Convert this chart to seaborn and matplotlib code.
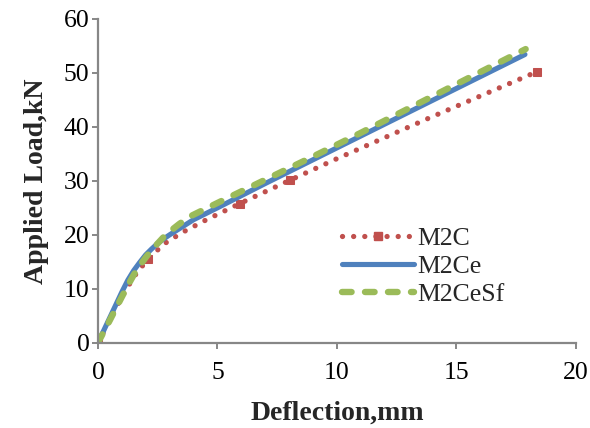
import matplotlib
matplotlib.use("Agg")
import matplotlib.pyplot as plt
from matplotlib.lines import Line2D
import seaborn as sns

# data
m2c_x = [0, 0.5, 1.0, 1.5, 2.1, 2.8, 3.0, 3.64, 4.5, 5.94, 8.03, 10.0, 12.0, 14.0, 16.0, 18.37]
m2c_y = [0, 4.3, 8.5, 12.2, 15.6, 18.4, 19.0, 20.7, 22.7, 25.8, 30.1, 34.1, 38.0, 41.9, 45.7, 50.2]
m2c_marks = [0, 4, 9, 10, 15]  # points where the square markers show

m2ce_x = [0, 0.5, 1.0, 1.25, 1.5, 1.75, 2.0, 2.25, 2.5, 2.75, 3.0, 3.5, 4.0,
          5, 7, 9, 11, 13, 15, 17.87]
m2ce_y = [0, 4.7, 9.4, 11.6, 13.4, 14.9, 16.3, 17.4, 18.4, 19.25, 20.0, 21.4, 22.8,
          25.0, 29.5, 33.9, 38.3, 42.7, 47.1, 53.4]

m2cesf_x = [0, 0.5, 1.0, 1.25, 1.5, 1.75, 2.0, 2.25, 2.5, 2.75, 3.0, 3.4, 3.85,
            5, 7, 9, 10.96, 13, 15, 17.9]
m2cesf_y = [0, 4.2, 8.5, 10.6, 12.6, 14.3, 15.8, 17.2, 18.4, 19.6, 20.6, 22.0, 23.4,
            25.9, 30.2, 34.5, 38.8, 43.4, 47.9, 54.4]

labels = ["M2C", "M2Ce", "M2CeSf"]
colors = ["#C0504D", "#4F81BD", "#9BBB59"]

red_style = dict(color=colors[0], lw=3.8, linestyle=(0, (0.01, 2.1)), dash_capstyle="round")
blue_style = dict(color=colors[1], lw=3.7, solid_capstyle="round")
green_style = dict(color=colors[2], lw=4.6, linestyle=(0, (1.5, 2.1)), dash_capstyle="round")

sns.set_style("ticks")
plt.rcParams["font.family"] = ["Liberation Serif", "DejaVu Serif"]

fig, ax = plt.subplots(figsize=(5.9, 4.28), dpi=100)
fig.subplots_adjust(left=0.166, right=0.976, bottom=0.199, top=0.956)

sns.lineplot(x=m2c_x, y=m2c_y, ax=ax, estimator=None, sort=False, **red_style)
sns.lineplot(x=[m2c_x[i] for i in m2c_marks], y=[m2c_y[i] for i in m2c_marks],
             ax=ax, color=colors[0], linestyle="none", marker="s", markersize=6,
             markeredgecolor=colors[0], estimator=None, sort=False)
sns.lineplot(x=m2ce_x, y=m2ce_y, ax=ax, estimator=None, sort=False, **blue_style)
sns.lineplot(x=m2cesf_x, y=m2cesf_y, ax=ax, estimator=None, sort=False, **green_style)

ax.set_xlim(0, 20)
ax.set_ylim(0, 60)
ax.set_xticks([0, 5, 10, 15, 20])
ax.set_yticks([0, 10, 20, 30, 40, 50, 60])

for side in ["top", "right"]:
    ax.spines[side].set_visible(False)
for side in ["left", "bottom"]:
    ax.spines[side].set_color("#878787")
    ax.spines[side].set_linewidth(1.6)
ax.tick_params(axis="both", direction="out", length=4.5, width=1.4,
               color="#878787", labelsize=18.5, labelcolor="black")
ax.tick_params(axis="x", pad=9)
ax.tick_params(axis="y", pad=1.5)

ax.set_xlabel("Deflection,mm", fontsize=20, fontweight="bold", labelpad=12)
ax.set_ylabel("Applied Load,kN", fontsize=20, fontweight="bold", labelpad=11)

handles = [
    Line2D([], [], marker="s", markersize=6, markeredgecolor=colors[0], **red_style),
    Line2D([], [], **blue_style),
    Line2D([], [], **green_style),
]
ax.legend(handles, labels, loc="upper left", bbox_to_anchor=(0.51, 0.357),
          frameon=False, fontsize=18.5, handlelength=2.8, handletextpad=0.15,
          labelspacing=0.2, borderaxespad=0, borderpad=0, numpoints=1)

plt.savefig("out.png", dpi=100)
